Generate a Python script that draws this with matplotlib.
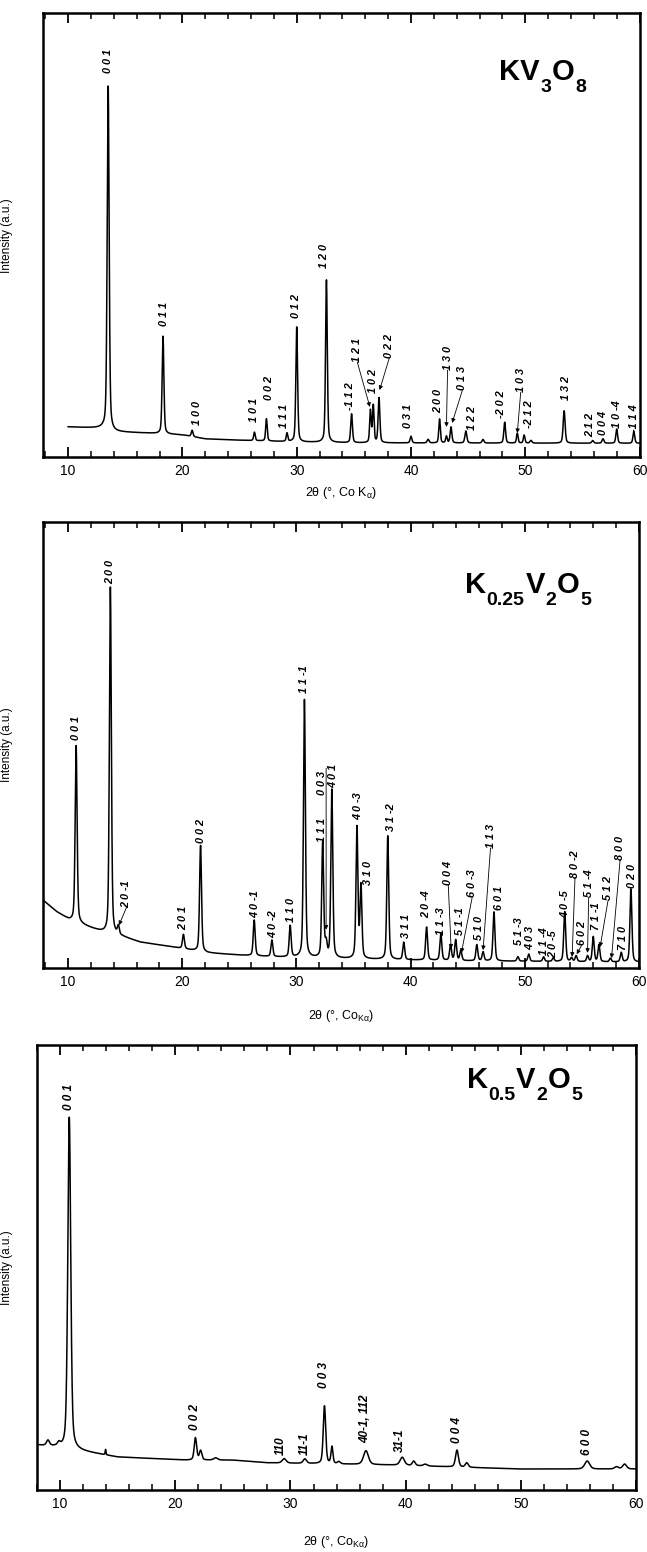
import numpy as np
import matplotlib.pyplot as plt
from matplotlib.ticker import MultipleLocator

plt.rcParams['font.family'] = ['Liberation Sans', 'DejaVu Sans']
plt.rcParams['mathtext.fontset'] = 'custom'
plt.rcParams['mathtext.rm'] = 'Liberation Sans'
plt.rcParams['mathtext.it'] = 'Liberation Sans:italic'
plt.rcParams['mathtext.bf'] = 'Liberation Sans:bold'

# ---------------- KV3O8 ----------------
kv_bg_x = [10, 13, 14, 17, 20, 22, 25, 30, 35, 60]
kv_bg_y = [68, 65, 57, 54, 50, 41, 38, 34, 32, 31]
kv_pos = [13.5, 18.3, 20.85, 26.3, 27.35, 29.15, 30.0, 32.6, 34.8, 36.45, 36.7, 37.2,
          40.0, 41.5, 42.5, 43.1, 43.5, 44.8, 46.3, 48.2, 49.3, 49.9, 50.5, 53.4,
          55.9, 56.8, 58.0, 59.5]
kv_height = [775, 220, 14, 19, 50, 19, 259, 366, 65, 72, 83, 101,
             15, 8, 54, 15, 36, 27, 8, 47, 22, 18, 6, 73,
             6, 10, 32, 27]
kv_width = [0.2, 0.18, 0.18, 0.16, 0.16, 0.16, 0.18, 0.18, 0.18, 0.16, 0.16, 0.18,
            0.18, 0.2, 0.16, 0.16, 0.18, 0.2, 0.2, 0.18, 0.16, 0.16, 0.2, 0.2,
            0.2, 0.2, 0.18, 0.18]
kv_hkl = ['0 0 1', '0 1 1', '1 0 0', '1 0 1', '0 0 2', '1 1 1', '0 1 2', '1 2 0',
          '-1 1 2', '1 2 1', '1 0 2', '0 2 2', '0 3 1', '2 0 0', '1 3 0', '0 1 3',
          '1 2 2', '-2 0 2', '1 0 3', '-2 1 2', '1 3 2', '2 1 2', '0 0 4', '1 0 -4',
          '-1 1 4']
kv_lab_x = [13.5, 18.4, 21.3, 26.3, 27.6, 28.9, 29.9, 32.35, 34.7, 35.3, 36.7, 38.1,
            39.7, 42.35, 43.2, 44.5, 45.3, 47.9, 49.6, 50.3, 53.55, 55.7, 56.8, 58.0,
            59.5]
kv_lab_y = [865, 295, 72, 79, 128, 65, 313, 426, 106, 214, 144, 223,
            65, 99, 196, 151, 61, 88, 146, 65, 128, 45, 50, 65,
            56]
# leader arrows: label -> (x_end, y_end) or (x_start, y_start, x_end, y_end)
kv_arrows = {'1 2 1': (36.4, 113), '0 2 2': (37.25, 151), '1 3 0': (43.1, 68),
             '0 1 3': (43.6, 77), '1 0 3': (49.3, 54)}

# ---------------- K0.25V2O5 ----------------
k25_bg_x = [7.8, 9.0, 10.1, 12, 13.3, 14.8, 16.3, 19.2, 22.2, 25, 28, 35, 45, 60]
k25_bg_y = [152, 126, 108, 90, 78, 70, 58, 47, 34, 29, 25, 20, 16, 13]
k25_pos = [10.7, 13.7, 14.4, 20.1, 21.6, 26.3, 27.85, 29.45, 30.7, 32.3, 32.6, 33.1,
           35.3, 35.65, 38.0, 39.4, 41.4, 42.65, 43.5, 43.95, 44.4, 45.8, 46.35, 47.3,
           49.4, 50.35, 51.65, 52.5, 53.5, 54.1, 54.5, 55.5, 56.0, 56.5, 57.5, 58.45,
           59.3]
k25_height = [396, 778, 19, 32, 238, 80, 37, 70, 578, 258, 30, 377,
              294, 162, 277, 39, 74, 60, 35, 46, 23, 36, 20, 110,
              10, 16, 10, 8, 112, 8, 13, 13, 56, 38, 8, 21,
              164]
k25_width = [0.2] * len(k25_pos)
k25_hkl = ['0 0 1', '2 0 0', '2 0 -1', '2 0 1', '0 0 2', '4 0 -1', '4 0 -2', '1 1 0',
           '1 1 -1', '1 1 1', '0 0 3', '4 0 1', '4 0 -3', '3 1 0', '3 1 -2', '3 1 1',
           '2 0 -4', '1 1 -3', '0 0 4', '5 1 -1', '6 0 -3', '5 1 0', '1 1 3', '6 0 1',
           '5 1 -3', '4 0 3', '1 1 -4', '2 0 -5', '4 0 -5', '8 0 -2', '6 0 2', '5 1 -4',
           '7 1 -1', '5 1 2', '8 0 0', '7 1 0', '0 2 0']
k25_lab_x = [10.7, 13.7, 15.1, 20.1, 21.6, 26.35, 28.0, 29.5,
             30.7, 32.2, 32.25, 33.2, 35.4, 36.3, 38.3, 39.6,
             41.4, 42.65, 43.3, 44.3, 45.4, 46.0, 47.0, 47.7,
             49.5, 50.5, 51.7, 52.5, 53.55, 54.4, 55.0, 55.6,
             56.2, 57.3, 58.35, 58.6, 59.4]
k25_lab_y = [511, 861, 135, 85, 280, 112, 67, 103,
             617, 283, 388, 404, 332, 186, 307, 67,
             112, 74, 186, 74, 159, 63, 269, 130,
             52, 40, 29, 22, 112, 202, 52, 159,
             85, 152, 242, 40, 179]
k25_arrows = {'2 0 -1': (14.45, 96), '0 0 3': (32.6, 448, 32.6, 86),
              '0 0 4': (43.55, 43), '6 0 -3': (44.45, 34), '1 1 3': (46.35, 40),
              '8 0 -2': (54.15, 25), '6 0 2': (54.55, 31), '5 1 -4': (55.5, 34),
              '5 1 2': (56.6, 47), '8 0 0': (57.6, 22)}

# ---------------- K0.5V2O5 ----------------
k5_bg_x = [8.0, 9.5, 10.3, 11.7, 15, 21, 25, 28, 38.8, 50, 60]
k5_bg_y = [101, 97, 92, 88, 74, 67, 67, 61, 56, 47, 47]
k5_pos = [8.95, 9.9, 10.8, 13.95, 21.75, 22.2, 23.5, 29.45, 31.25, 32.95, 33.6, 34.2,
          36.55, 39.7, 40.7, 41.7, 44.45, 45.3, 55.75, 58.3, 59.0]
k5_height = [12, 8, 747, 12, 50, 21, 5, 10, 10, 130, 38, 5,
             31, 18, 10, 4, 38, 10, 18, 5, 11]
k5_width = [0.3, 0.3, 0.3, 0.08, 0.25, 0.25, 0.4, 0.4, 0.35, 0.25, 0.2, 0.3,
            0.5, 0.45, 0.3, 0.4, 0.3, 0.3, 0.5, 0.4, 0.4]
k5_hkl = ['0 0 1', '0 0 2', '110', '11-1', '0 0 3', '40-1, 112', '31-1', '0 0 4', '6 0 0']
k5_lab_x = [10.8, 21.75, 29.2, 31.25, 32.9, 36.5, 39.5, 44.45, 55.75]
k5_lab_y = [854, 135, 79, 79, 229, 106, 85, 106, 79]
k5_arrows = {}


def pattern(x, bg_x, bg_y, pos, height, width):
    # background plus pseudo-Voigt peaks
    y = np.interp(x, bg_x, bg_y)
    for p, h, w in zip(pos, height, width):
        d = (x - p) / w
        y = y + h * (0.6 * np.exp(-4 * np.log(2) * d ** 2) + 0.4 / (1 + 4 * d ** 2))
    return y


def label_peaks(ax, names, lx, ly, arrows, size=7.8):
    for s, x, y in zip(names, lx, ly):
        ax.text(x, y, s, rotation=90, ha='center', va='bottom', fontsize=size,
                fontweight='bold', fontstyle='italic')
    for s, pts in arrows.items():
        i = names.index(s)
        if len(pts) == 4:
            start, end = pts[:2], pts[2:]
        else:
            start, end = (lx[i], ly[i]), pts
        ax.annotate('', xy=end, xytext=start,
                    arrowprops=dict(arrowstyle='-|>', lw=0.6, color='k',
                                    mutation_scale=6, shrinkA=0, shrinkB=0))


def formula(ax, x, y, parts):
    # chemical formula with large dropped subscripts
    first = ax.text(x, y, parts[0][0], transform=ax.transAxes, fontsize=21,
                    fontweight='bold', va='baseline', ha='left')
    prev = first
    for s, sub in parts[1:]:
        prev = ax.annotate(s, xy=(1, 0), xycoords=(prev, first),
                           xytext=(0.5, -7 if sub else 0), textcoords='offset points',
                           fontsize=14 if sub else 21, fontweight='bold',
                           va='bottom', ha='left')


def style_axes(ax, xmin, xlabel, labelpad, ylab_x):
    ax.set_xlim(xmin, 60)
    ax.set_ylim(0, 1000)
    ax.set_yticks([])
    ax.xaxis.set_major_locator(MultipleLocator(10))
    ax.xaxis.set_minor_locator(MultipleLocator(2))
    ax.tick_params(axis='x', which='both', direction='in', top=True, bottom=True,
                   labelsize=10, pad=5)
    ax.tick_params(axis='x', which='major', length=7, width=1.3)
    ax.tick_params(axis='x', which='minor', length=4, width=1.1)
    for sp in ax.spines.values():
        sp.set_linewidth(1.8)
    ax.set_xlabel(xlabel, fontsize=9, labelpad=labelpad)
    ax.set_ylabel('Intensity (a.u.)', fontsize=8.5)
    ax.yaxis.set_label_coords(ylab_x, 0.5)


fig = plt.figure(figsize=(6.47, 15.52), dpi=100)

# KV3O8
ax1 = fig.add_axes([0.0665, 0.7055, 0.922, 0.286])
x1 = np.arange(10, 60.001, 0.01)
ax1.plot(x1, pattern(x1, kv_bg_x, kv_bg_y, kv_pos, kv_height, kv_width), color='k', lw=1.1)
label_peaks(ax1, kv_hkl, kv_lab_x, kv_lab_y, kv_arrows)
style_axes(ax1, 7.8, '2θ (°, Co K$_\\mathregular{α}$)', 5, -0.05)
formula(ax1, 0.765, 0.849, [('KV', 0), ('3', 1), ('O', 0), ('8', 1)])

# K0.25V2O5
ax2 = fig.add_axes([0.0665, 0.3763, 0.921, 0.2874])
x2 = np.arange(7.8, 60.001, 0.01)
ax2.plot(x2, pattern(x2, k25_bg_x, k25_bg_y, k25_pos, k25_height, k25_width), color='k', lw=1.1)
label_peaks(ax2, k25_hkl, k25_lab_x, k25_lab_y, k25_arrows)
style_axes(ax2, 7.8, '2θ (°, Co$_\\mathregular{Kα}$)', 14, -0.05)
formula(ax2, 0.708, 0.841, [('K', 0), ('0.25', 1), ('V', 0), ('2', 1), ('O', 0), ('5', 1)])

# K0.5V2O5
ax3 = fig.add_axes([0.0572, 0.04, 0.926, 0.2867])
x3 = np.arange(8.0, 60.001, 0.01)
ax3.plot(x3, pattern(x3, k5_bg_x, k5_bg_y, k5_pos, k5_height, k5_width), color='k', lw=1.1)
label_peaks(ax3, k5_hkl, k5_lab_x, k5_lab_y, k5_arrows, size=8.5)
style_axes(ax3, 8.0, '2θ (°, Co$_\\mathregular{Kα}$)', 17, -0.04)
formula(ax3, 0.717, 0.903, [('K', 0), ('0.5', 1), ('V', 0), ('2', 1), ('O', 0), ('5', 1)])

fig.savefig('out.png', dpi=100)
